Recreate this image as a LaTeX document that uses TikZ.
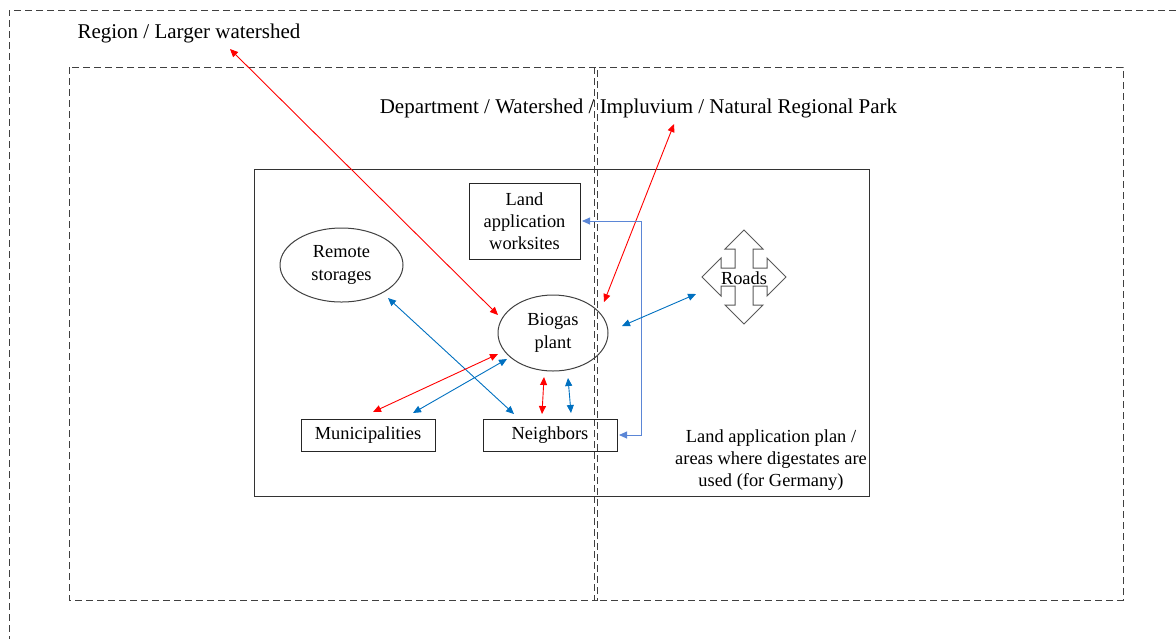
\documentclass[tikz,border=0pt]{standalone}
\usepackage{fontspec}
\setmainfont{Liberation Serif}
\usetikzlibrary{arrows.meta,shapes.geometric}
\definecolor{linkred}{HTML}{FF0000}
\definecolor{linkblue}{HTML}{0070C0}
\definecolor{elbowblue}{HTML}{5B86D6}
\definecolor{framegray}{HTML}{404040}
\begin{document}
\begin{tikzpicture}[x=0.5pt,y=-0.5pt,
  dashframe/.style={draw=framegray,line width=0.5pt,dash pattern=on 3.5pt off 2pt},
  bigtext/.style={inner sep=0pt,font=\fontsize{10.5}{12.6}\selectfont},
  smalltext/.style={inner sep=0pt,align=center,font=\fontsize{9.2}{11}\selectfont},
  boxnode/.style={draw=black!85,line width=0.5pt,align=center,inner sep=0pt,font=\fontsize{9.2}{11}\selectfont},
  ellnode/.style={ellipse,draw=framegray,line width=0.5pt,align=center,inner sep=0pt,font=\fontsize{9.2}{11.3}\selectfont},
  tips/.style={{Triangle[length=4pt,width=3.5pt]}-{Triangle[length=4pt,width=3.5pt]}},
  redlink/.style={tips,draw=linkred,line width=0.45pt},
  bluelink/.style={tips,draw=linkblue,line width=0.45pt},
  elbowlink/.style={tips,draw=elbowblue,line width=0.45pt}]
\useasboundingbox (0,0) rectangle (1176,639);
% frames
\draw[dashframe] (1176,10) -- (9,10) -- (9,639);
\draw[dashframe] (69,67) rectangle (597,600);
\draw[dashframe] (594,67) rectangle (1123,600);
\draw[draw=black!80,line width=0.5pt] (254,169) rectangle (869,496);
% labels
\node[bigtext] (regionlbl) at (189,33) {Region / Larger watershed};
\node[bigtext] (deptlbl) at (638.5,108) {Department / Watershed / Impluvium / Natural Regional Park};
\node[smalltext] (planlbl) at (771,460) {Land application plan /\\areas where digestates are\\used (for Germany)};
% nodes
\node[boxnode,minimum width=55.5pt,minimum height=38pt] (land) at (524.5,221) {Land\\application\\worksites};
\node[ellnode,minimum width=61.5pt,minimum height=37pt] (remote) at (341.5,265) {Remote\\storages};
\node[ellnode,minimum width=55pt,minimum height=38pt] (biogas) at (553,333) {Biogas\\plant};
\node[boxnode,minimum width=67pt,minimum height=16pt] (munic) at (368,435) {Municipalities};
\node[boxnode,minimum width=67pt,minimum height=16pt] (neigh) at (550,435) {Neighbors};
% roads quad arrow
\def\cx{744}\def\cy{277}\def\tv{47}\def\th{42}\def\hl{19}\def\hw{19}\def\sw{9}
\draw[draw=black!65,line width=0.5pt,fill=white]
  (\cx,\cy-\tv) -- (\cx+\hw,\cy-\tv+\hl) -- (\cx+\sw,\cy-\tv+\hl) -- (\cx+\sw,\cy-\sw)
  -- (\cx+\th-\hl,\cy-\sw) -- (\cx+\th-\hl,\cy-\hw) -- (\cx+\th,\cy) -- (\cx+\th-\hl,\cy+\hw)
  -- (\cx+\th-\hl,\cy+\sw) -- (\cx+\sw,\cy+\sw) -- (\cx+\sw,\cy+\tv-\hl) -- (\cx+\hw,\cy+\tv-\hl)
  -- (\cx,\cy+\tv) -- (\cx-\hw,\cy+\tv-\hl) -- (\cx-\sw,\cy+\tv-\hl) -- (\cx-\sw,\cy+\sw)
  -- (\cx-\th+\hl,\cy+\sw) -- (\cx-\th+\hl,\cy+\hw) -- (\cx-\th,\cy) -- (\cx-\th+\hl,\cy-\hw)
  -- (\cx-\th+\hl,\cy-\sw) -- (\cx-\sw,\cy-\sw) -- (\cx-\sw,\cy-\tv+\hl) -- (\cx-\hw,\cy-\tv+\hl) -- cycle;
\node[inner sep=0pt,font=\fontsize{9.2}{11}\selectfont] (roads) at (744,278) {Roads};
% connector end points
\coordinate (regA) at (230,49);
\coordinate (regB) at (498,315);
\coordinate (depA) at (674,124);
\coordinate (depB) at (604,302);
\coordinate (landR) at (582,221);
\coordinate (elbowTop) at (641,221);
\coordinate (elbowBot) at (641,435);
\coordinate (neighR) at (619,435);
\coordinate (roadA) at (622,326);
\coordinate (roadB) at (696,294);
\coordinate (remA) at (388,298);
\coordinate (remB) at (514,414);
\coordinate (bioR1) at (498,354);
\coordinate (munR1) at (373,412);
\coordinate (bioB1) at (507,359);
\coordinate (munB1) at (413,413);
\coordinate (bioR2) at (544,377);
\coordinate (neiR2) at (542,414);
\coordinate (bioB2) at (568,378);
\coordinate (neiB2) at (571,413);
% connectors
\draw[redlink] (regA) -- (regB);
\draw[redlink] (depA) -- (depB);
\draw[elbowlink] (landR) -- (elbowTop) -- (elbowBot) -- (neighR);
\draw[bluelink] (roadA) -- (roadB);
\draw[bluelink] (remA) -- (remB);
\draw[redlink] (bioR1) -- (munR1);
\draw[bluelink] (bioB1) -- (munB1);
\draw[redlink] (bioR2) -- (neiR2);
\draw[bluelink] (bioB2) -- (neiB2);
\end{tikzpicture}
\end{document}
